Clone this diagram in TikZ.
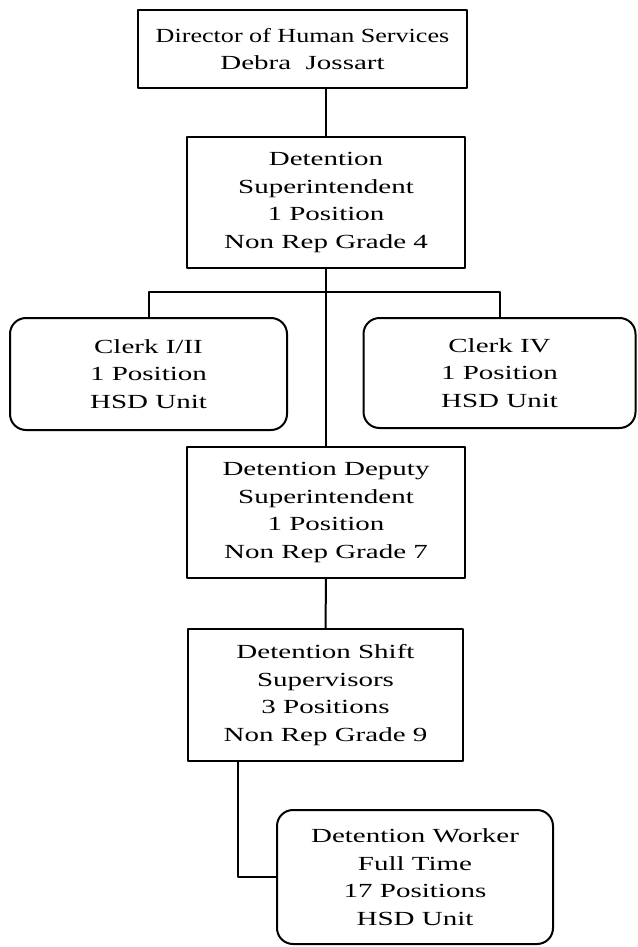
\documentclass[tikz,border=0pt]{standalone}
\usepackage{fontspec}
\setmainfont{Liberation Serif}[FakeStretch=1.45]
\usepackage{tikz}

\begin{document}
\begin{tikzpicture}[x=1pt,y=-1pt,line cap=round,line join=round,
        post/.style={draw,line width=2pt,rectangle,align=center,inner sep=0pt,
                font=\fontsize{20}{27.5}\selectfont},
        unit/.style={post,rounded corners=16pt},
        link/.style={line width=2pt}]
        \useasboundingbox (0,0) rectangle (637,947);
        % boxes
        \node[post,minimum width=329pt,minimum height=78pt] (dir) at (302.5,49) {\scalebox{0.9}[1]{Director of Human Services}\\Debra\ \ Jossart};
        \node[post,minimum width=278pt,minimum height=131pt] (sup) at (326,202.5) {Detention\\Superintendent\\1 Position\\Non Rep Grade 4};
        \node[unit,minimum width=277pt,minimum height=112pt] (clerka) at (148.5,374) {Clerk I/II\\1 Position\\HSD Unit};
        \node[unit,minimum width=272pt,minimum height=110pt] (clerkb) at (499.5,373) {Clerk IV\\1 Position\\HSD Unit};
        \node[post,minimum width=278pt,minimum height=131pt] (dep) at (326,512.5) {Detention Deputy\\Superintendent\\1 Position\\Non Rep Grade 7};
        \node[post,minimum width=275pt,minimum height=132pt] (shift) at (325.5,695) {Detention Shift\\Supervisors\\3 Positions\\Non Rep Grade 9};
        \node[unit,minimum width=276pt,minimum height=134pt] (worker) at (415,877) {Detention Worker\\Full Time\\17 Positions\\HSD Unit};
        % lines
        \draw[link] (sup.north) -- (sup.north |- dir.south);
        \draw[link] (sup.south) -- (dep.north);
        \draw[link] (clerka.north) -- ++(0,-25) -| (clerkb.north);
        \draw[link] (dep.south) -- (shift.north);
        \draw[link] ([xshift=51pt]shift.south west) |- (worker.west);
\end{tikzpicture}
\end{document}
